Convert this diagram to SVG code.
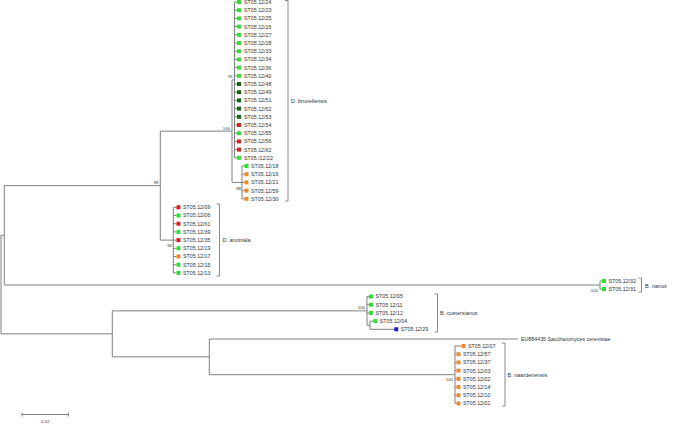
<svg xmlns="http://www.w3.org/2000/svg" width="696" height="424" viewBox="0 0 696 424">
<style>
.br{fill:none;stroke:#7f7f7f;stroke-width:1}
.bk{fill:none;stroke:#8a8a8a;stroke-width:1}
.lf{font-family:"Liberation Sans",Arial,sans-serif;font-size:5.3px;fill:#333}
.cl{font-family:"Liberation Sans",Arial,sans-serif;font-size:5.5px;fill:#333}
.bs{font-family:"Liberation Sans",Arial,sans-serif;font-size:4.3px;fill:#333;text-anchor:end}
.g{fill:#2fe02f}.d{fill:#0b6b0b}.r{fill:#e01b1b}.o{fill:#f0882a}.b{fill:#1c1cd0}
</style>
<rect width="696" height="424" fill="#fff"/>
<g id="connectors" class="br">
<path d="M1,235.3V333.85M1,235.3H4.3M1,333.85H112.3"/>
<path d="M4.3,185.6V285M4.3,185.6H160.3M4.3,285H600"/>
<path d="M160.3,131.15V240.1M160.3,131.15H232M160.3,240.1H173.3"/>
<path d="M232,79.9V182.4M232,79.9H234.5M232,182.4H242"/>
<path d="M234.5,2V157.8M234.5,2H237M234.5,10.2H237M234.5,18.4H237M234.5,26.6H237M234.5,34.8H237M234.5,43H237M234.5,51.2H237M234.5,59.4H237M234.5,67.6H237M234.5,75.8H237M234.5,84H237M234.5,92.2H237M234.5,100.4H237M234.5,108.6H237M234.5,116.8H237M234.5,125H237M234.5,133.2H237M234.5,141.4H237M234.5,149.6H237M234.5,157.8H237"/>
<path d="M242,166V198.8M242,166H244.5M242,174.2H244.5M242,182.4H244.5M242,190.6H244.5M242,198.8H244.5"/>
<path d="M173.3,207.3V272.9M173.3,207.3H176.5M173.3,215.5H176.5M173.3,223.7H176.5M173.3,231.9H176.5M173.3,240.1H176.5M173.3,248.3H176.5M173.3,256.5H176.5M173.3,264.7H176.5M173.3,272.9H176.5"/>
<path d="M600,281V289M600,281H602M600,289H602"/>
<path d="M112.3,310.85V356.85M112.3,310.85H367M112.3,356.85H209.3"/>
<path d="M367,296.5V325.2M367,296.5H369M367,304.7H369M367,312.9H369M367,325.2H370M370,321.1V329.3M370,321.1H373.3M370,329.3H394.3"/>
<path d="M209.3,339V374.7M209.3,339H518M209.3,374.7H455"/>
<path d="M455,346V403.4M455,346H461.5M455,354.2H456.5M455,362.4H456.5M455,370.6H456.5M455,378.8H456.5M455,387H456.5M455,395.2H456.5M455,403.4H456.5"/>
</g>
<g id="bootstrap">
<text class="bs" x="233" y="78">81</text>
<text class="bs" x="230" y="129.5">100</text>
<text class="bs" x="241" y="189.5">88</text>
<text class="bs" x="158.5" y="184">99</text>
<text class="bs" x="172" y="246.5">94</text>
<text class="bs" x="598" y="292">100</text>
<text class="bs" x="365" y="309">100</text>
<text class="bs" x="453" y="381">100</text>
</g>
<g id="n-24"><rect class="g" x="237" y="0" width="4" height="4"/><text class="lf" x="244" y="3.9">ST05.12/24</text></g>
<g id="n-23"><rect class="g" x="237" y="8.2" width="4" height="4"/><text class="lf" x="244" y="12.1">ST05.12/23</text></g>
<g id="n-25"><rect class="g" x="237" y="16.4" width="4" height="4"/><text class="lf" x="244" y="20.3">ST05.12/25</text></g>
<g id="n-26"><rect class="g" x="237" y="24.6" width="4" height="4"/><text class="lf" x="244" y="28.5">ST05.12/26</text></g>
<g id="n-27"><rect class="g" x="237" y="32.8" width="4" height="4"/><text class="lf" x="244" y="36.7">ST05.12/27</text></g>
<g id="n-28"><rect class="g" x="237" y="41" width="4" height="4"/><text class="lf" x="244" y="44.9">ST05.12/28</text></g>
<g id="n-33"><rect class="g" x="237" y="49.2" width="4" height="4"/><text class="lf" x="244" y="53.1">ST05.12/33</text></g>
<g id="n-34"><rect class="g" x="237" y="57.4" width="4" height="4"/><text class="lf" x="244" y="61.3">ST05.12/34</text></g>
<g id="n-36"><rect class="g" x="237" y="65.6" width="4" height="4"/><text class="lf" x="244" y="69.5">ST05.12/36</text></g>
<g id="n-40"><rect class="g" x="237" y="73.8" width="4" height="4"/><text class="lf" x="244" y="77.7">ST05.12/40</text></g>
<g id="n-48"><rect class="d" x="237" y="82" width="4" height="4"/><text class="lf" x="244" y="85.9">ST05.12/48</text></g>
<g id="n-49"><rect class="d" x="237" y="90.2" width="4" height="4"/><text class="lf" x="244" y="94.1">ST05.12/49</text></g>
<g id="n-51"><rect class="d" x="237" y="98.4" width="4" height="4"/><text class="lf" x="244" y="102.3">ST05.12/51</text></g>
<g id="n-52"><rect class="d" x="237" y="106.6" width="4" height="4"/><text class="lf" x="244" y="110.5">ST05.12/52</text></g>
<g id="n-53"><rect class="d" x="237" y="114.8" width="4" height="4"/><text class="lf" x="244" y="118.7">ST05.12/53</text></g>
<g id="n-54"><rect class="r" x="237" y="123" width="4" height="4"/><text class="lf" x="244" y="126.9">ST05.12/54</text></g>
<g id="n-55"><rect class="g" x="237" y="131.2" width="4" height="4"/><text class="lf" x="244" y="135.1">ST05.12/55</text></g>
<g id="n-56"><rect class="r" x="237" y="139.4" width="4" height="4"/><text class="lf" x="244" y="143.3">ST05.12/56</text></g>
<g id="n-62"><rect class="r" x="237" y="147.6" width="4" height="4"/><text class="lf" x="244" y="151.5">ST05.12/62</text></g>
<g id="n-22"><rect class="g" x="237" y="155.8" width="4" height="4"/><text class="lf" x="244" y="159.7">ST05./12/22</text></g>
<g id="n-18"><rect class="g" x="244.5" y="164" width="4" height="4"/><text class="lf" x="251" y="167.9">ST05.12/18</text></g>
<g id="n-16"><rect class="o" x="244.5" y="172.2" width="4" height="4"/><text class="lf" x="251" y="176.1">ST05.12/16</text></g>
<g id="n-21"><rect class="o" x="244.5" y="180.4" width="4" height="4"/><text class="lf" x="251" y="184.3">ST05.12/21</text></g>
<g id="n-59"><rect class="o" x="244.5" y="188.6" width="4" height="4"/><text class="lf" x="251" y="192.5">ST05.12/59</text></g>
<g id="n-30"><rect class="o" x="244.5" y="196.8" width="4" height="4"/><text class="lf" x="251" y="200.7">ST05.12/30</text></g>
<g id="n-09"><rect class="r" x="176.5" y="205.3" width="4" height="4"/><text class="lf" x="183" y="209.2">ST05.12/09</text></g>
<g id="n-06"><rect class="g" x="176.5" y="213.5" width="4" height="4"/><text class="lf" x="183" y="217.4">ST05.12/06</text></g>
<g id="n-61"><rect class="r" x="176.5" y="221.7" width="4" height="4"/><text class="lf" x="183" y="225.6">ST05.12/61</text></g>
<g id="n-39"><rect class="g" x="176.5" y="229.9" width="4" height="4"/><text class="lf" x="183" y="233.8">ST05.12/39</text></g>
<g id="n-35"><rect class="r" x="176.5" y="238.1" width="4" height="4"/><text class="lf" x="183" y="242">ST05.12/35</text></g>
<g id="n-19"><rect class="g" x="176.5" y="246.3" width="4" height="4"/><text class="lf" x="183" y="250.2">ST05.12/19</text></g>
<g id="n-17"><rect class="o" x="176.5" y="254.5" width="4" height="4"/><text class="lf" x="183" y="258.4">ST05.12/17</text></g>
<g id="n-15"><rect class="g" x="176.5" y="262.7" width="4" height="4"/><text class="lf" x="183" y="266.6">ST05.12/15</text></g>
<g id="n-13"><rect class="g" x="176.5" y="270.9" width="4" height="4"/><text class="lf" x="183" y="274.8">ST05.12/13</text></g>
<g id="n-32"><rect class="g" x="602" y="279" width="4" height="4"/><text class="lf" x="608.5" y="282.9">ST05.12/32</text></g>
<g id="n-31"><rect class="g" x="602" y="287" width="4" height="4"/><text class="lf" x="608.5" y="290.9">ST05.12/31</text></g>
<g id="n-05"><rect class="g" x="369" y="294.5" width="4" height="4"/><text class="lf" x="375.5" y="298.4">ST05.12/05</text></g>
<g id="n-11"><rect class="g" x="369" y="302.7" width="4" height="4"/><text class="lf" x="375.5" y="306.6">ST05.12/11</text></g>
<g id="n-12"><rect class="g" x="369" y="310.9" width="4" height="4"/><text class="lf" x="375.5" y="314.8">ST05.12/12</text></g>
<g id="n-04"><rect class="g" x="373.3" y="319.1" width="4" height="4"/><text class="lf" x="379.8" y="323">ST05.12/04</text></g>
<g id="n-29"><rect class="b" x="394.3" y="327.3" width="4" height="4"/><text class="lf" x="400.8" y="331.2">ST05.12/29</text></g>
<g id="n-eu"><text class="lf" x="521" y="341">EU884435 Saccharomyces cerevisiae</text></g>
<g id="n-07"><rect class="o" x="461.5" y="344" width="4" height="4"/><text class="lf" x="468" y="347.9">ST05.12/07</text></g>
<g id="n-57"><rect class="o" x="456.5" y="352.2" width="4" height="4"/><text class="lf" x="463" y="356.1">ST05.12/57</text></g>
<g id="n-37"><rect class="o" x="456.5" y="360.4" width="4" height="4"/><text class="lf" x="463" y="364.3">ST05.12/37</text></g>
<g id="n-03"><rect class="o" x="456.5" y="368.6" width="4" height="4"/><text class="lf" x="463" y="372.5">ST05.12/03</text></g>
<g id="n-02"><rect class="o" x="456.5" y="376.8" width="4" height="4"/><text class="lf" x="463" y="380.7">ST05.12/02</text></g>
<g id="n-14"><rect class="o" x="456.5" y="385" width="4" height="4"/><text class="lf" x="463" y="388.9">ST05.12/14</text></g>
<g id="n-10"><rect class="o" x="456.5" y="393.2" width="4" height="4"/><text class="lf" x="463" y="397.1">ST05.12/10</text></g>
<g id="n-01"><rect class="o" x="456.5" y="401.4" width="4" height="4"/><text class="lf" x="463" y="405.3">ST05.12/01</text></g>
<g id="clade-bruxellensis"><path class="bk" d="M285,0.5H288V201H285"/><text class="cl" x="291" y="103">D. bruxellensis</text></g>
<g id="clade-anomala"><path class="bk" d="M216.5,204H219.5V276H216.5"/><text class="cl" x="222.5" y="242">D. anomala</text></g>
<g id="clade-nanus"><path class="bk" d="M638.5,278H641.5V292H638.5"/><text class="cl" x="645" y="287.5">B. nanus</text></g>
<g id="clade-custersianus"><path class="bk" d="M434.5,294H437.5V332H434.5"/><text class="cl" x="440" y="315">B. custersianus</text></g>
<g id="clade-naardenensis"><path class="bk" d="M502,343H505V406H502"/><text class="cl" x="507.5" y="377">B. naardenensis</text></g>
<g id="scale"><path class="br" d="M22,414.5H68.3M22,412.5V416.5M68.3,412.5V416.5"/><text class="bs" style="text-anchor:middle" x="45.2" y="423">0.02</text></g>
</svg>
